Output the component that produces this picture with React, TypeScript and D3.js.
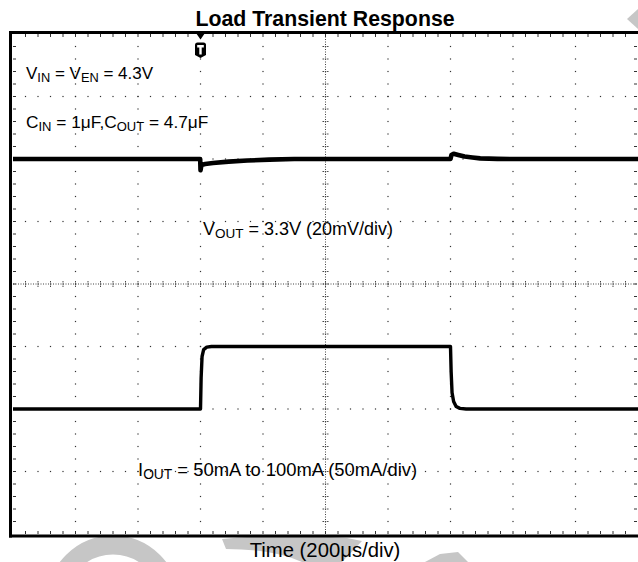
import * as d3 from "d3";

// scope settings: 200us/div, 10 div wide, trigger 3 div from the left
const timeDomainUs = [-600, 1400];

// VOUT channel, deviation from 3.3V in mV (20mV/div)
const voutTimeUs = [-600, -300, -1, 0, 3, 15, 40, 90, 150, 220, 300, 500, 800, 803, 810, 825, 845, 870, 895, 950, 1000, 1400];
const voutDevMv = [0, 0, 0, -3.6, -1.9, -1.6, -1.3, -0.85, -0.5, -0.2, 0, 0, 0, 1.3, 1.7, 1.3, 0.8, 0.5, 0.2, 0.05, 0, 0];

// IOUT channel in mA (50mA/div)
const ioutTimeUs = [-600, 0, 2, 5, 10, 20, 35, 800, 802, 805, 810, 818, 830, 850, 1400];
const ioutMa = [50, 50, 75, 92, 97.5, 99.5, 100, 100, 80, 63, 56, 52, 50.5, 50, 50];

const title = "Load Transient Response";
const xAxisLabel = "Time (200μs/div)";

const W = 638;
const H = 562;
const plot = { left: 13, right: 638, top: 34, bottom: 534 };
const DIV = 62.5;
const MINOR = 12.5;
const FONT = "'Liberation Sans', Arial, Helvetica, sans-serif";
const WM = "#c6c6c6";

export default function App() {
  const x = d3.scaleLinear().domain(timeDomainUs).range([plot.left, plot.right]);
  // center of screen sits 2 div below the VOUT trace level
  const yV = d3.scaleLinear().domain([-120, 40]).range([plot.bottom, plot.top]);
  // 0 mA sits 3 div below center
  const yI = d3.scaleLinear().domain([-50, 350]).range([plot.bottom, plot.top]);

  const voutLine = d3
    .line<number>()
    .x((_, i) => x(voutTimeUs[i]))
    .y((d) => yV(d));
  const ioutLine = d3
    .line<number>()
    .x((_, i) => x(ioutTimeUs[i]))
    .y((d) => yI(d));

  const cx = plot.left + 5 * DIV;
  const cy = plot.top + 4 * DIV;
  const minorX = d3.range(1, 50).map((k) => plot.left + k * MINOR);
  const minorY = d3.range(1, 40).map((k) => plot.top + k * MINOR);
  const majorX = d3.range(1, 10).filter((i) => i !== 5).map((i) => plot.left + i * DIV);
  const majorY = d3.range(1, 8).filter((i) => i !== 4).map((i) => plot.top + i * DIV);

  const trig = x(0);

  return (
    <svg
      width={W}
      height={H}
      style={{ position: "absolute", left: 0, top: 0, background: "#fff" }}
      fontFamily={FONT}
    >
      {/* faint watermark pieces */}
      <g fill={WM} stroke="none">
        <ellipse cx={113} cy={602} rx={57} ry={57} fill="none" stroke={WM} strokeWidth={19} />
        <path d="M222,539 Q285,533 347,538 L362,541 L342,562 L302,562 Q272,549 226,549 Z" />
        <path d="M425,562 L440,554 L458,552 L468,562 Z" />
        <path d="M627,19 L638,9 L638,29 Z" />
      </g>

      {/* dotted division lines */}
      <g fill="#333">
        {majorX.map((gx) =>
          minorY.map((gy) => <rect key={`v${gx}-${gy}`} x={gx - 0.6} y={gy - 0.6} width={1.2} height={1.2} />)
        )}
        {majorY.map((gy) =>
          minorX.map((gx) => <rect key={`h${gx}-${gy}`} x={gx - 0.6} y={gy - 0.6} width={1.2} height={1.2} />)
        )}
      </g>

      {/* center cross with minor ticks */}
      <g stroke="#444" strokeWidth={1}>
        <line x1={cx} x2={cx} y1={plot.top} y2={plot.bottom} strokeDasharray="1 1.5" />
        <line x1={plot.left} x2={plot.right} y1={cy} y2={cy} strokeDasharray="1 1.5" />
        {minorY.map((gy) => (
          <line key={`cy${gy}`} x1={cx - 3} x2={cx + 3} y1={gy} y2={gy} strokeDasharray="1.5 0.8" />
        ))}
        {minorX.map((gx) => (
          <line key={`cx${gx}`} x1={gx} x2={gx} y1={cy - 3} y2={cy + 3} strokeDasharray="1.5 0.8" />
        ))}
      </g>

      {/* edge ticks */}
      <g stroke="#333" strokeWidth={1}>
        {minorX.map((gx) => (
          <g key={`e${gx}`}>
            <line x1={gx} x2={gx} y1={plot.top} y2={plot.top + 3} />
            <line x1={gx} x2={gx} y1={plot.bottom} y2={plot.bottom - 3} />
          </g>
        ))}
        {minorY.map((gy) => (
          <g key={`f${gy}`}>
            <line x1={plot.left} x2={plot.left + 3} y1={gy} y2={gy} />
            <line x1={plot.right - 1} x2={plot.right - 4} y1={gy} y2={gy} />
          </g>
        ))}
      </g>

      {/* frame */}
      <g stroke="#000" strokeWidth={3} fill="none">
        <line x1={9} x2={W} y1={32.5} y2={32.5} />
        <line x1={9} x2={W} y1={536} y2={536} />
        <line x1={10.5} x2={10.5} y1={31} y2={537.5} />
      </g>

      {/* traces */}
      <path d={voutLine(voutDevMv) ?? ""} fill="none" stroke="#000" strokeWidth={4.6} strokeLinejoin="round" />
      <path d={ioutLine(ioutMa) ?? ""} fill="none" stroke="#000" strokeWidth={3.4} strokeLinejoin="round" />

      {/* trigger marker */}
      <path d={`M${trig - 4.5},33 L${trig + 4.5},33 L${trig},39.5 Z`} fill="#000" />
      <path
        d={`M${trig - 5.5},45 Q${trig - 5.5},42.5 ${trig - 3},42.5 L${trig + 3},42.5 Q${trig + 5.5},42.5 ${trig + 5.5},45 L${trig + 5.5},55 L${trig},58 L${trig - 5.5},55 Z`}
        fill="#000"
      />
      <path
        d={`M${trig - 3.3},45 L${trig + 3.3},45 L${trig + 3.3},47.5 L${trig + 1.2},47.5 L${trig + 1.2},54.5 L${trig - 1.2},54.5 L${trig - 1.2},47.5 L${trig - 3.3},47.5 Z`}
        fill="#fff"
      />

      {/* texts */}
      <text x={325} y={26} textAnchor="middle" fontSize={21.3} fontWeight="bold">
        {title}
      </text>
      <text x={26} y={79} fontSize={17} style={{ whiteSpace: "pre" }}>
        V<tspan fontSize={12.8} dy={3}>IN</tspan>
        <tspan dy={-3}> = V</tspan>
        <tspan fontSize={12.8} dy={3}>EN</tspan>
        <tspan dy={-3}> = 4.3V</tspan>
      </text>
      <text x={26} y={128} fontSize={17.3} style={{ whiteSpace: "pre" }}>
        C<tspan fontSize={13} dy={3}>IN</tspan>
        <tspan dy={-3}> = 1μF,C</tspan>
        <tspan fontSize={13} dy={3}>OUT</tspan>
        <tspan dy={-3}> = 4.7μF</tspan>
      </text>
      <text x={203} y={235} fontSize={18} style={{ whiteSpace: "pre" }}>
        V<tspan fontSize={13.5} dy={3}>OUT</tspan>
        <tspan dy={-3}> = 3.3V (20mV/div)</tspan>
      </text>
      <text x={138} y={476} fontSize={18.4} style={{ whiteSpace: "pre" }}>
        I<tspan fontSize={13.8} dy={3}>OUT</tspan>
        <tspan dy={-3}> = 50mA to 100mA (50mA/div)</tspan>
      </text>
      <text x={325} y={557} textAnchor="middle" fontSize={20.3}>
        {xAxisLabel}
      </text>
    </svg>
  );
}
